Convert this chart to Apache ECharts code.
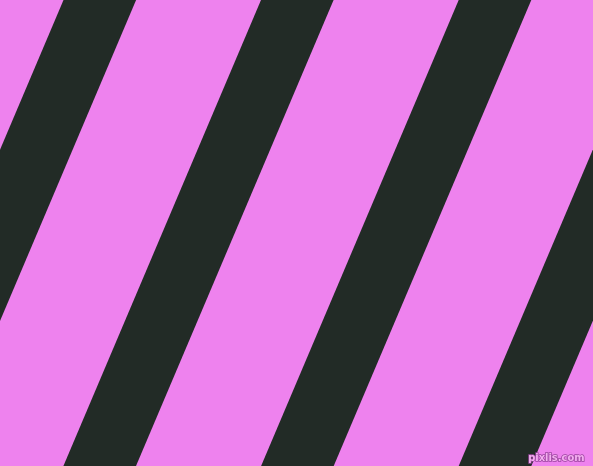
<!DOCTYPE html>
<html>
<head>
<meta charset="utf-8">
<style>
html, body { margin: 0; padding: 0; }
#chart { width: 593px; height: 466px; }
</style>
<script src="https://cdn.jsdelivr.net/npm/echarts@6/dist/echarts.min.js"></script>
</head>
<body>
<div id="chart"></div>
<script>
// stripe left edges at the top row, in px of the 593 x 466 canvas
var stripeTopX = [63.5, 261, 458.7, 656.3];
var stripeWidth = [72.6, 72.6, 72.6, 72.6];
// how far each stripe moves left from top to bottom
var stripeDrift = [197.6, 197.6, 197.6, 197.6];

var W = 593, H = 466;

var data = [];
for (var i = 0; i < stripeTopX.length; i++) {
  data.push([stripeTopX[i], stripeWidth[i], stripeDrift[i]]);
}

var myChart = echarts.init(document.getElementById('chart'));
var option = {
  backgroundColor: '#EE82EE',
  animation: false,
  grid: { left: 0, right: 0, top: 0, bottom: 0 },
  xAxis: { type: 'value', min: 0, max: W, show: false },
  yAxis: { type: 'value', min: 0, max: H, inverse: true, show: false },
  title: {
    text: 'pixlis.com',
    right: 7,
    bottom: 1,
    padding: 0,
    textStyle: {
      fontSize: 11,
      fontWeight: 'bold',
      fontFamily: 'DejaVu Sans Condensed',
      color: '#f4aef0',
      textBorderColor: '#9a459e',
      textBorderWidth: 1.5
    }
  },
  series: [{
    type: 'custom',
    clip: true,
    data: data,
    renderItem: function (params, api) {
      var x = api.value(0), w = api.value(1), d = api.value(2);
      var pts = [
        api.coord([x, 0]),
        api.coord([x + w, 0]),
        api.coord([x + w - d, H]),
        api.coord([x - d, H])
      ];
      return {
        type: 'polygon',
        shape: { points: pts },
        style: { fill: '#222B26' }
      };
    }
  }]
};
myChart.setOption(option);
</script>
</body>
</html>
